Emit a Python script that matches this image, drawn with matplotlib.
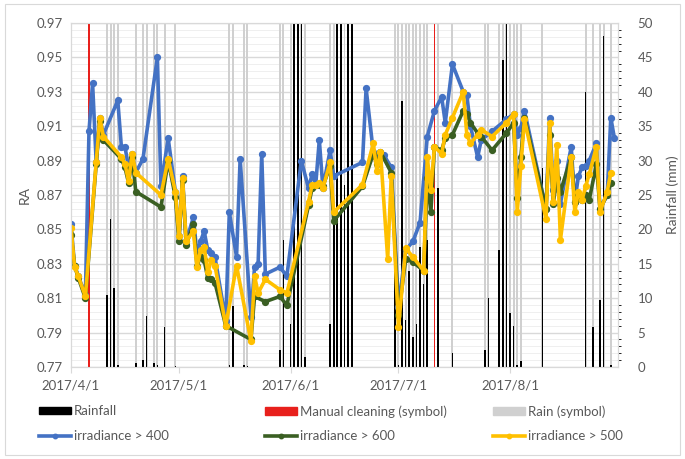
import numpy as np
import matplotlib
matplotlib.use("Agg")
import matplotlib.pyplot as plt
from matplotlib.patches import Patch, Rectangle
from matplotlib.lines import Line2D

plt.rcParams['font.family'] = ['Lato', 'DejaVu Sans']

start = np.datetime64('2017-04-01')
N = None

# RA per day, days counted from 2017/4/1 (None = no value at that threshold)
ra_day = [0, 1, 2, 4, 5, 6, 7, 8, 9, 13, 14, 15, 16, 17, 18, 20, 24, 25, 27, 29,
          30, 31, 32, 34, 35, 36, 37, 38, 39, 40, 43, 44, 46, 47, 50, 51, 52, 53, 54, 58,
          60, 64, 66, 67, 68, 69, 70, 72, 73, 81, 82, 84, 85, 86, 87, 88, 89, 91, 93, 95,
          97, 98, 99, 100, 101, 103, 104, 106, 109, 110, 111, 113, 114, 117, 121, 123, 124, 125, 126, 132,
          133, 134, 135, 136, 139, 140, 141, 142, 143, 144, 146, 147, 149, 150, 151]
ra_400 = [.853, .829, .823, .812, .907, .935, .889, .915, .905, .925, .898, .898, .886, .894, .883, .891, .950, .875, .903, .872,
          .846, .881, .843, .857, .836, .843, .849, .838, .836, .834, .797, .860, .834, .891, .799, .828, .830, .894, .824, .828,
          .823, .890, .874, .882, .876, .902, .874, .896, .881, .889, .932, .895, .890, .893, .893, N, .886, .805, .838, .843,
          .854, N, .904, N, .919, .927, .912, .946, .930, .928, .910, .892, .902, .907, .914, .917, .905, .909, .919, .862,
          .915, .873, .890, .865, .898, .866, .881, .886, .887, .890, .900, .862, .870, .915, .903]
ra_600 = [.847, .829, .822, .810, N, N, .888, .913, .902, N, .891, .886, .877, .892, .872, N, N, .863, .890, .869,
          .843, .879, .841, .853, .829, .834, .832, .822, .821, .819, .794, N, N, N, .786, .811, N, N, .808, .811,
          .806, N, .864, .874, .876, .876, .875, .887, .855, .875, N, .894, .888, .895, N, N, .883, .800, .833, .831,
          N, .826, .880, .860, .898, .896, .903, .905, .919, .917, .912, .906, .904, .896, .906, .912, .868, .892, .915, .862,
          .905, .865, .880, .872, .892, .866, .869, .867, .870, .867, .888, .862, .870, .877, N]
ra_500 = [.851, .828, .823, .811, N, N, .889, .915, .904, N, .892, .888, .878, .894, .883, N, N, .870, .891, .872,
          .846, .880, .843, .849, .828, .838, .840, .825, .832, .829, .794, N, .829, N, .785, .823, .813, N, .821, .815,
          .813, N, .866, .876, .876, .877, .874, .889, .860, .876, N, .900, .884, .895, N, .833, .881, .793, .839, .834,
          N, .826, .892, .873, .898, .894, .905, .915, .930, .905, .900, .905, .908, .904, .912, .917, .860, .887, .914, .856,
          .912, .866, .899, .844, .892, .860, .872, .867, .875, .882, .898, .860, .872, .883, N]

# daily rainfall (mm)
rain_day = [0, 10, 11, 12, 13, 18, 20, 21, 23, 24, 26, 29, 44, 45, 48, 49, 58, 59, 61, 62,
            63, 64, 65, 72, 73, 74, 75, 76, 77, 78, 90, 91, 92, 93, 94, 95, 96, 97, 98, 99,
            102, 106, 115, 116, 119, 120, 121, 122, 123, 124, 125, 131, 143, 145, 147, 148, 150]
rain_mm = [4.3, 10.4, 21.5, 11.5, 0.3, 0.6, 1.0, 7.4, 0.6, 0.3, 5.8, 0.2, 0.3, 8.8, 0.3, 0.2, 2.5, 18.5, 6.3, 60,
           60, 60, 1.4, 6.3, 21.4, 60, 60, 26.5, 60, 60, 20, 0.3, 38.6, 6.8, 14, 4.4, 6.3, 17.5, 12, 18.5,
           26, 2, 2.4, 10, 17, 44.6, 60, 7.8, 5.9, 0.3, 0.9, 28.9, 40, 5.8, 9.8, 48.1, 0.3]
cleaning_day = [5, 101]
symbol_mm = 50

month_ticks = ['2017-04-01', '2017-05-01', '2017-06-01', '2017-07-01', '2017-08-01']
month_labels = ['2017/4/1', '2017/5/1', '2017/6/1', '2017/7/1', '2017/8/1']

txt = '#595959'
grid_c = '#d9d9d9'

fig = plt.figure(figsize=(6.85, 4.59), dpi=100)
fig.patches.append(Rectangle((5 / 685, 4 / 459), 675 / 685, 451 / 459, transform=fig.transFigure,
                             fill=False, edgecolor='#d9d9d9', linewidth=0.8))

ax = fig.add_axes([71 / 685, 1 - 367 / 459, (618 - 71) / 685, (367 - 23) / 459])
ax2 = ax.twinx()
ax.set_zorder(ax2.get_zorder() + 1)
ax.patch.set_visible(False)

rd = start + np.array(rain_day)
cd = start + np.array(cleaning_day)
ax2.bar(rd, [symbol_mm] * len(rd), width=0.55, color='#d0d0d0', zorder=2)
ax2.bar(cd, [symbol_mm] * len(cd), width=0.4, color='#e8201c', zorder=3)
ax2.bar(rd, rain_mm, width=0.45, color='black', zorder=4)
ax2.set_ylim(0, 50)
ax2.set_yticks(np.arange(0, 51, 5))
ax2.set_yticks(np.arange(0, 51, 1), minor=True)
ax2.grid(True, which='major', axis='y', color=grid_c, linewidth=1.0, zorder=0)
ax2.grid(True, which='minor', axis='y', color='#efefef', linewidth=0.7, zorder=0)
ax2.set_axisbelow(True)
ax2.set_ylabel('Rainfall (mm)', color=txt, fontsize=10, labelpad=10)

series = [(ra_400, '#4472c4', 'irradiance > 400'),
          (ra_600, '#3a5f23', 'irradiance > 600'),
          (ra_500, '#ffc000', 'irradiance > 500')]
for vals, col, lab in series:
    v = np.array([np.nan if x is None else x for x in vals])
    ok = ~np.isnan(v)
    ax.plot(start + np.array(ra_day)[ok], v[ok], color=col, lw=2.6, marker='o', ms=4.2, label=lab)

ax.set_ylim(0.77, 0.97)
ax.set_yticks(np.arange(0.77, 0.9701, 0.02))
ax.yaxis.set_major_formatter(matplotlib.ticker.FormatStrFormatter('%.2f'))
ax.set_ylabel('RA', color=txt, fontsize=10, labelpad=4)
ax.set_xlim(start, start + 152)
ax.set_xticks([np.datetime64(m) for m in month_ticks])
ax.set_xticklabels(month_labels)

for a in (ax, ax2):
    for s in a.spines.values():
        s.set_color(grid_c)
    a.tick_params(axis='y', length=0, labelsize=9.5, labelcolor=txt, pad=6)
ax2.tick_params(axis='y', pad=14)
ax.tick_params(axis='x', length=4, color=grid_c, labelsize=9.5, labelcolor=txt, pad=5)

h1 = [Patch(color='black', label='Rainfall'),
      Line2D([], [], color='#4472c4', lw=2.6, marker='o', ms=3.2, label='irradiance > 400')]
h2 = [Patch(color='#e8201c', label='Manual cleaning (symbol)'),
      Line2D([], [], color='#3a5f23', lw=2.6, marker='o', ms=3.2, label='irradiance > 600')]
h3 = [Patch(color='#d0d0d0', label='Rain (symbol)'),
      Line2D([], [], color='#ffc000', lw=2.6, marker='o', ms=3.2, label='irradiance > 500')]
for hs, x0 in ((h1, 34), (h2, 260), (h3, 488)):
    leg = fig.legend(handles=hs, loc='upper left', bbox_to_anchor=(x0 / 685, 1 - 400 / 459),
                     frameon=False, fontsize=9.5, handlelength=2.4, handleheight=0.5,
                     handletextpad=0.2, labelspacing=0.95, borderaxespad=0)
    for t in leg.get_texts():
        t.set_color(txt)

fig.savefig('out.png', dpi=100, facecolor='white')
